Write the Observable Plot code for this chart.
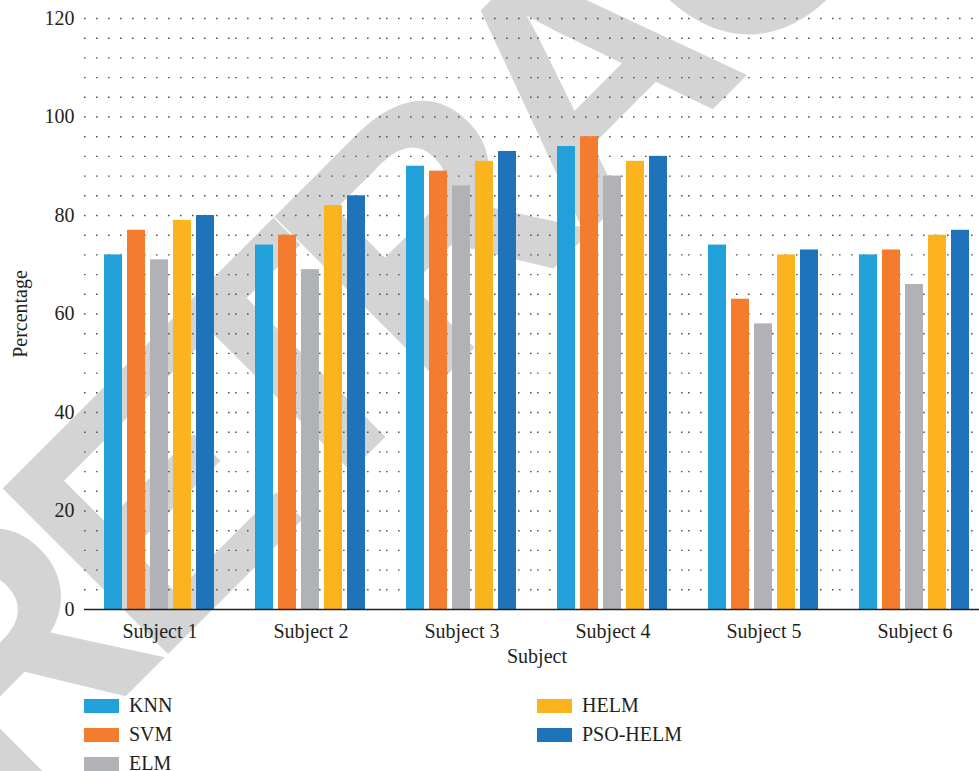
<!DOCTYPE html>
<html>
<head>
<meta charset="utf-8">
<script src="https://cdn.jsdelivr.net/npm/d3@7"></script>
<script src="https://cdn.jsdelivr.net/npm/@observablehq/plot@0.6"></script>
<style>
  html, body { margin: 0; padding: 0; background: #fff; }
  #wrap { position: relative; width: 979px; height: 771px; overflow: hidden; font-family: "Liberation Serif", serif; color: #231f20; }
  #wm { position: absolute; left: 0; top: 0; z-index: 0; }
  #chart { position: absolute; left: 0; top: 0; z-index: 1; }
  .title { position: absolute; z-index: 2; font-size: 20px; line-height: 20px; white-space: nowrap; }
  #legend { position: absolute; left: 0; top: 0; z-index: 2; }
  .item { position: absolute; display: flex; align-items: center; height: 29px; font-size: 20px; white-space: nowrap; }
  .sw { width: 35px; height: 14px; margin-right: 10px; flex: none; }
</style>
</head>
<body>
<div id="wrap">
  <svg id="wm" width="979" height="771">
    <text id="wmtext" x="-4" y="826" transform="rotate(-45 -4 826)" font-family="Liberation Sans, Arial, sans-serif" font-weight="bold" font-size="340" letter-spacing="-25" fill="#d4d4d4">RETRACTED</text>
  </svg>
  <div id="chart"></div>
  <div class="title" id="xtitle" style="left:537px; top:646px; transform: translateX(-50%);">Subject</div>
  <div class="title" id="ytitle" style="left:20px; top:314px; transform: translate(-50%,-50%) rotate(-90deg);">Percentage</div>
  <div id="legend"></div>
</div>
<script>
const subjects = ["Subject 1", "Subject 2", "Subject 3", "Subject 4", "Subject 5", "Subject 6"];
const methods = ["KNN", "SVM", "ELM", "HELM", "PSO-HELM"];
const knn     = [72, 74, 90, 94, 74, 72];
const svm     = [77, 76, 89, 96, 63, 73];
const elm     = [71, 69, 86, 88, 58, 66];
const helm    = [79, 82, 91, 91, 72, 76];
const psoHelm = [80, 84, 93, 92, 73, 77];
const colors  = ["#22a0da", "#f47c2e", "#b1b2b6", "#fcb41e", "#1f73ba"];
const yTicks  = [0, 20, 40, 60, 80, 100, 120];
const gridValues = d3.range(4, 121, 4);

const series = [knn, svm, elm, helm, psoHelm];
const data = subjects.flatMap((s, i) => methods.map((m, j) => ({subject: s, method: m, value: series[j][i]})));

const chart = Plot.plot({
  width: 979,
  height: 675,
  marginLeft: 84,
  marginRight: -11,
  marginTop: 18,
  marginBottom: 66,
  style: {background: "transparent", fontFamily: "'Liberation Serif', serif", fontSize: "20px", color: "#231f20"},
  fx: {domain: subjects, padding: 0, axis: "bottom", label: null, tickSize: 0, tickPadding: 14},
  x: {domain: methods, axis: null, paddingInner: 0.2, paddingOuter: 0.865},
  y: {domain: [0, 120], ticks: yTicks, tickSize: 0, tickPadding: 10, label: null},
  color: {domain: methods, range: colors},
  marks: [
    Plot.ruleY(gridValues, {stroke: "#555", strokeWidth: 1.4, strokeDasharray: "1.6,10.4"}),
    Plot.barY(data, {fx: "subject", x: "method", y: "value", fill: "method"}),
    Plot.ruleY([0], {stroke: "#231f20", strokeWidth: 1.6})
  ]
});
document.getElementById("chart").appendChild(chart);

// legend (column-major, 3 rows)
const legend = document.getElementById("legend");
const colX = [84, 537];
methods.forEach((m, i) => {
  const col = Math.floor(i / 3), row = i % 3;
  const item = document.createElement("div");
  item.className = "item";
  item.style.left = colX[col] + "px";
  item.style.top = (691 + row * 29) + "px";
  const sw = document.createElement("div");
  sw.className = "sw";
  sw.style.background = colors[i];
  const t = document.createElement("span");
  t.textContent = m;
  item.appendChild(sw);
  item.appendChild(t);
  legend.appendChild(item);
});
</script>
</body>
</html>
